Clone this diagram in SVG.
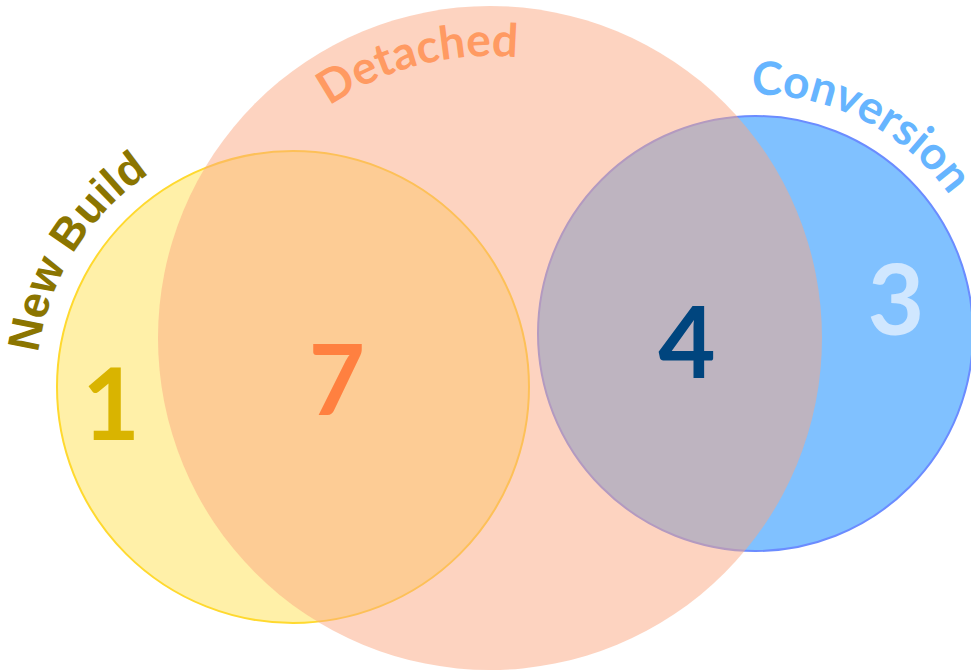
<svg xmlns="http://www.w3.org/2000/svg" width="971" height="671" viewBox="0 0 971 671">
<style>
.lab{font-family:Lato,"Liberation Sans",sans-serif;font-weight:bold}
.num{font-weight:bold;text-anchor:middle}
</style>
<defs>
<path id="pDet" d="M 208 338 A 282 282 0 0 1 772 338"/>
<path id="pConv" d="M 515.5 333.5 A 239 239 0 0 1 993.5 333.5"/>
<path id="pNew" d="M 36 387 A 257 257 0 0 1 550 387"/>
</defs>
<rect width="971" height="671" fill="#ffffff"/>
<g id="newbuild">
<circle cx="293" cy="387" r="236" fill="#fff0a8" stroke="#ffd92f" stroke-width="2"/>
</g>
<g id="conversion">
<circle cx="755.5" cy="333.5" r="217.5" fill="#80c1ff" stroke="#6b8cff" stroke-width="2"/>
</g>
<g id="detached">
<circle cx="490" cy="338" r="332" fill="#fba781" fill-opacity="0.5"/>
</g>
<g id="labels">
<text class="lab" font-size="46" fill="#ff9a62"><textPath href="#pDet" startOffset="41.9%" text-anchor="middle">Detached</textPath></text>
<text class="lab" font-size="46" fill="#66b5ff"><textPath href="#pConv" startOffset="65.0%" text-anchor="middle">Conversion</textPath></text>
<text font-family="'Liberation Sans',Arial,sans-serif" font-weight="bold" font-size="45" fill="#8b7500"><textPath href="#pNew" startOffset="17.7%" text-anchor="middle">New Build</textPath></text>
</g>
<g id="counts">
<text class="num" x="111" y="440" font-family="Lato,sans-serif" font-size="100" fill="#d9b400">1</text>
<text class="num" x="337" y="415" font-family="Lato,sans-serif" font-size="97" fill="#ff8040">7</text>
<text class="num" x="687" y="378" font-family="Lato,sans-serif" font-size="99" fill="#00457e">4</text>
<text class="num" x="896" y="335" font-family="Lato,sans-serif" font-size="98" fill="#d0e7ff">3</text>
</g>
</svg>
